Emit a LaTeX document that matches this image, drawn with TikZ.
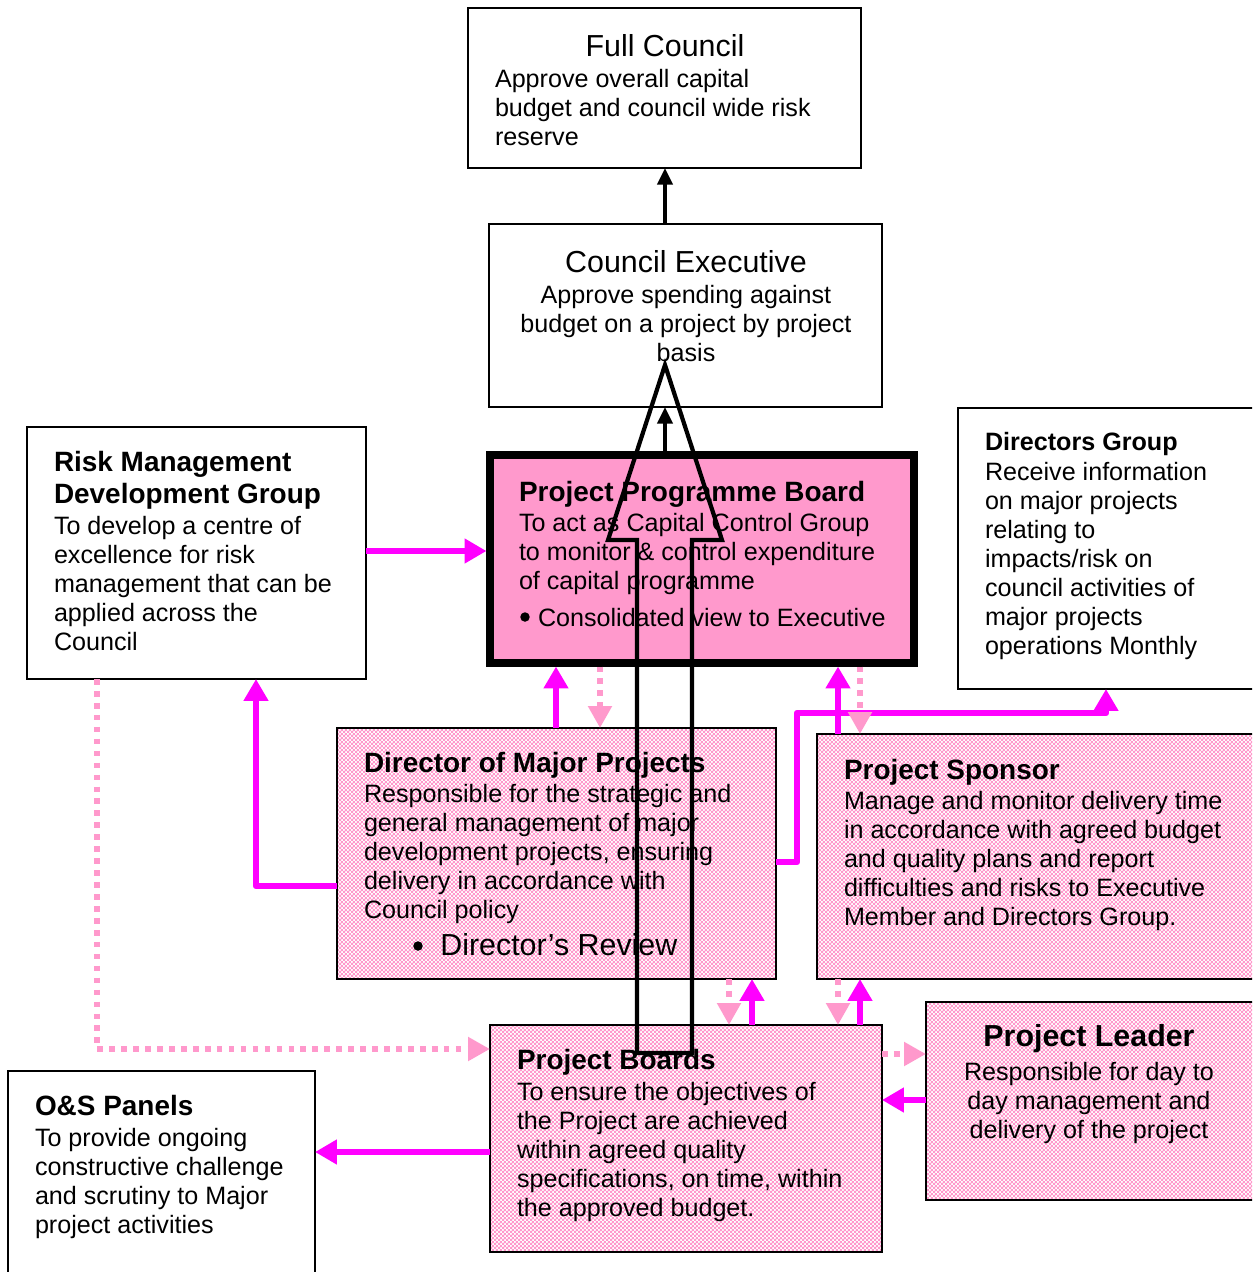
\documentclass[tikz,border=0pt]{standalone}
\usepackage{fontspec}
\setmainfont{Liberation Sans}
\usetikzlibrary{arrows.meta,fit,patterns}

\definecolor{magline}{HTML}{FF00FF}
\definecolor{pinkline}{HTML}{FF99CC}

% fine pink check used as the shading of the project boxes
\pgfdeclarepatternformonly{pinkcheck}{\pgfqpoint{0pt}{0pt}}{\pgfqpoint{2.27pt}{2.27pt}}{\pgfqpoint{2.27pt}{2.27pt}}{%
  \pgfpathrectangle{\pgfqpoint{0pt}{0pt}}{\pgfqpoint{1.25pt}{1.25pt}}%
  \pgfpathrectangle{\pgfqpoint{1.13pt}{1.13pt}}{\pgfqpoint{1.25pt}{1.25pt}}%
  \pgfusepath{fill}}

\newcommand\bodyfont{\fontsize{14.3}{16.5}\selectfont}
\newcommand\headfont{\bfseries\fontsize{15.9}{18.2}\selectfont}
\newcommand\smallhead{\bfseries\fontsize{14.3}{16.5}\selectfont}
\newcommand\bigfont{\fontsize{17.3}{20}\selectfont}

\tikzset{
  box/.style={draw=black, line width=1.1pt, inner sep=0pt, outer sep=0pt, fill=white},
  hatchbox/.style={draw=black, line width=1.1pt, inner sep=0pt, outer sep=0pt,
    preaction={fill=white}, pattern=pinkcheck, pattern color=pinkline},
  boardbox/.style={draw=black, line width=4pt, inner sep=0pt, outer sep=0pt, fill=pinkline},
  txt/.style={inner sep=0pt, outer sep=0pt, anchor=north west, align=left, font=\bodyfont},
  head/.style={txt, font=\headfont},
  bulletdot/.style={circle, fill=black, inner sep=0pt, minimum size=5.4pt},
  magarrow/.style={draw=magline, line width=3.6pt, line join=round,
    -{Triangle[width=13.5pt,length=12.5pt]}},
  dotarrow/.style={draw=pinkline, line width=3.2pt, dash pattern=on 3.2pt off 3.6pt,
    -{Triangle[width=13pt,length=12.5pt]}},
  blkarrow/.style={draw=black, line width=2.6pt, -{Triangle[width=8.5pt,length=9.5pt]}},
  hollow/.style={draw=black, line width=2.4pt, line join=miter}
}

\begin{document}
\begin{tikzpicture}[x=0.02cm,y=-0.02cm]
\useasboundingbox (0,0) rectangle (1252,1272);
\clip (0,0) rectangle (1252,1272);

% ---------- boxes ----------
\node[box, fit={(468,8)(861,168)}] (fc) {};
\node[box, fit={(489,224)(882,407)}] (ce) {};
\node[box, fit={(27,427)(366,679)}] (rm) {};
\node[boardbox, fit={(490,455)(914,663)}] (ppb) {};
\node[box, fit={(958,408)(1270,689)}] (dg) {};
\node[hatchbox, fit={(337,728)(776,979)}] (dmp) {};
\node[hatchbox, fit={(817,734)(1270,979)}] (sp) {};
\node[hatchbox, fit={(490,1025)(882,1252)}] (pb) {};
\node[hatchbox, fit={(926,1002)(1270,1200)}] (pl) {};
\node[box, fit={(8,1071)(315,1290)}] (os) {};

% ---------- reference columns and rows for connectors ----------
\coordinate (xk) at (665,0);
\coordinate (xa) at (556,0);
\coordinate (xb) at (600,0);
\coordinate (xc) at (838,0);
\coordinate (xd) at (860,0);
\coordinate (xe) at (729,0);
\coordinate (xf) at (752,0);
\coordinate (xg) at (256,0);
\coordinate (xh) at (797,0);
\coordinate (xi) at (1106,0);
\coordinate (xj) at (97,0);
\coordinate (ya) at (0,551);
\coordinate (yb) at (0,886);
\coordinate (yc) at (0,862);
\coordinate (yd) at (0,713);
\coordinate (ye) at (0,1049);
\coordinate (yf) at (0,1054);
\coordinate (yg) at (0,1100);
\coordinate (yh) at (0,1152);

% ---------- connectors ----------
\draw[blkarrow] (xk |- ce.north) -- (xk |- fc.south);
\draw[blkarrow, shorten <=2pt] (xk |- ppb.north) -- (xk |- ce.south);

\draw[magarrow, shorten >=2pt] (rm.east |- ya) -- (ppb.west |- ya);
\draw[magarrow, shorten >=2pt] (xa |- dmp.north) -- (xa |- ppb.south);
\draw[dotarrow, shorten <=2pt] (xb |- ppb.south) -- (xb |- dmp.north);
\draw[magarrow] (dmp.west |- yb) -| (xg |- rm.south);
\draw[magarrow] (dmp.east |- yc) -| (xh |- yd) -| (xi |- dg.south);
\draw[magarrow, shorten >=2pt] (xc |- sp.north) -- (xc |- ppb.south);
\draw[dotarrow, shorten <=2pt] (xd |- ppb.south) -- (xd |- sp.north);
\draw[dotarrow] (xe |- dmp.south) -- (xe |- pb.north);
\draw[magarrow] (xf |- pb.north) -- (xf |- dmp.south);
\draw[dotarrow] (xc |- sp.south) -- (xc |- pb.north);
\draw[magarrow] (xd |- pb.north) -- (xd |- sp.south);
\draw[dotarrow] (xj |- rm.south) |- (pb.west |- ye);
\draw[dotarrow] (pb.east |- yf) -- (pl.west |- yf);
\draw[magarrow] (pl.west |- yg) -- (pb.east |- yg);
\draw[magarrow] (pb.west |- yh) -- (os.east |- yh);

% ---------- texts ----------
\node[font=\bigfont, inner sep=0pt] (fct) at (665,46) {Full Council};
\node[txt] (fcb) at (495,69) {Approve overall capital\\budget and council wide risk\\reserve};

\node[font=\bigfont, inner sep=0pt] (cet) at (686,262) {Council Executive};
\node[txt, anchor=north, align=center] (ceb) at (686,285) {Approve spending against\\budget on a project by project\\basis};

\node[head] (rmt) at (54,451) {Risk Management\\Development Group};
\node[txt] (rmb) at (54,516) {To develop a centre of\\excellence for risk\\management that can be\\applied across the\\Council};

\node[head] (ppbt) at (519,481) {Project Programme Board};
\node[txt] (ppbb) at (519,513) {To act as Capital Control Group\\to monitor \& control expenditure\\of capital programme};
\node[bulletdot] (ppbd) at (525,617) {};
\node[txt] (ppbl) at (538,608) {Consolidated view to Executive};

\node[txt, font=\smallhead] (dgt) at (985,432) {Directors Group};
\node[txt] (dgb) at (985,462) {Receive information\\on major projects\\relating to\\impacts/risk on\\council activities of\\major projects\\operations Monthly};

\node[head] (dmpt) at (364,752) {Director of Major Projects};
\node[txt] (dmpb) at (364,784) {Responsible for the strategic and\\general management of major\\development projects, ensuring\\delivery in accordance with\\Council policy};
\node[bulletdot] (dmpd) at (418,946) {};
\node[inner sep=0pt, anchor=west, font=\fontsize{17.3}{20}\selectfont] (dmpr) at (440,945) {Director’s Review};

\node[head] (spt) at (844,759) {Project Sponsor};
\node[txt] (spb) at (844,791) {Manage and monitor delivery time\\in accordance with agreed budget\\and quality plans and report\\difficulties and risks to Executive\\Member and Directors Group.};

\node[head] (pbt) at (517,1049) {Project Boards};
\node[txt] (pbb) at (517,1082) {To ensure the objectives of\\the Project are achieved\\within agreed quality\\specifications, on time, within\\the approved budget.};

\node[inner sep=0pt, font=\bfseries\fontsize{17.3}{20}\selectfont] (plt) at (1089,1039) {Project Leader};
\node[txt, anchor=north, align=center] (plb) at (1089,1062) {Responsible for day to\\day management and\\delivery of the project};

\node[head] (ost) at (35,1095) {O\&S Panels};
\node[txt] (osb) at (35,1128) {To provide ongoing\\constructive challenge\\and scrutiny to Major\\project activities};

% ---------- open arrow drawn across the middle column ----------
\draw[hollow] (637,1053) -- (637,540) -- (608,540) -- (665,365) -- (722,540)
  -- (692,540) -- (692,1053) -- cycle;
\end{tikzpicture}
\end{document}
